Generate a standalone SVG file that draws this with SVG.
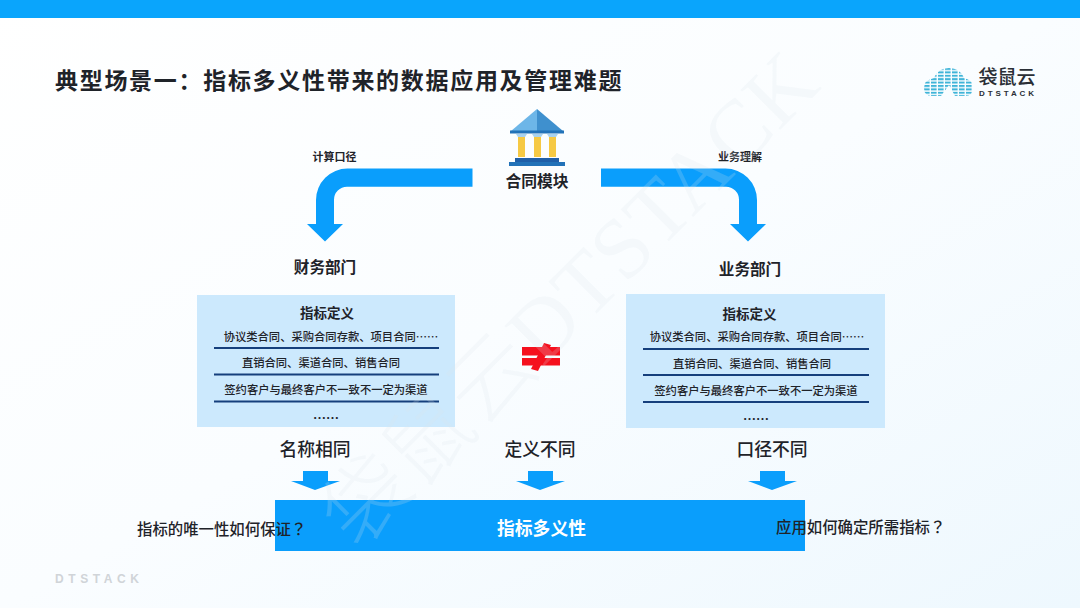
<svg xmlns="http://www.w3.org/2000/svg" width="1080" height="608" viewBox="0 0 1080 608">
<defs>
<linearGradient id="bg" x1="0" y1="0" x2="1" y2="1"><stop offset="0" stop-color="#ffffff"/><stop offset="0.5" stop-color="#fafdff"/><stop offset="1" stop-color="#eef8fe"/></linearGradient>
<pattern id="dash" width="7" height="3.4" patternUnits="userSpaceOnUse"><rect width="5.6" height="2" fill="#3FB4D8"/></pattern>
</defs>
<style>
text{font-family:"Noto Sans CJK SC","Liberation Sans",sans-serif;fill:#1f2329;text-anchor:middle}
.arrow{fill:#0A9EFC}
.box{fill:#CCE9FD}
.rule{stroke:#153F7C;stroke-width:2;fill:none}
.row{font-size:11.3px;font-weight:500}
.head{font-size:13.5px;font-weight:700}
.dots{font-size:13px;font-weight:700}
.dept{font-size:15.6px;font-weight:700}
.lab{font-size:17.8px;font-weight:500}
.tiny{font-size:11px;font-weight:700}
.q{font-size:15.4px;font-weight:500;text-anchor:start}
.qm{font-family:"Noto Sans CJK JP",sans-serif}
</style>
<rect width="1080" height="608" fill="url(#bg)"/>
<rect width="1080" height="18" fill="#0AA5FC"/>
<g id="title"><text x="55" y="89" style="font-size:23px;font-weight:700;text-anchor:start;letter-spacing:1.7px">典型场景一：指标多义性带来的数据应用及管理难题</text></g>
<g id="logo">
<path d="M924 88 Q924 80 934 78 Q938 68 949 68 Q960 68 964 78 Q973 80 973 88 Q973 96 965 96 H955 L949 85 L941 96 H932 Q924 96 924 88Z" fill="url(#dash)"/>
<text x="1007" y="84" style="font-size:19px;font-weight:500;fill:#2a2f36">袋鼠云</text>
<text x="1008" y="96" style="font-size:8px;font-weight:700;letter-spacing:2.9px;font-family:'Liberation Sans',sans-serif;fill:#2a2f36">DTSTACK</text>
</g>
<g id="bank">
<path d="M537 109 L511 131 H537Z" fill="#6DB6E8"/><path d="M537 109 L563 131 H537Z" fill="#3F90CE"/>
<rect x="510" y="130.5" width="54" height="3" fill="#2272B8"/>
<path d="M516 134 H527 L525 137 H518Z M532 134 H543 L541 137 H534Z M547 134 H558 L556 137 H549Z" fill="#A9D2EE"/>
<rect x="518" y="137" width="7" height="20" fill="#F6C944"/><rect x="534" y="137" width="7" height="20" fill="#F6C944"/><rect x="549" y="137" width="7" height="20" fill="#F6C944"/>
<rect x="515" y="158" width="44" height="4" fill="#1F5FA8"/><rect x="509" y="162" width="56" height="4" fill="#2272B8"/>
</g>
<g id="contract"><text x="537" y="187" style="font-size:15.8px;font-weight:700">合同模块</text></g>
<g id="connectors">
<path class="arrow" d="M472.5 168.5 V186.7 H347 A13 13 0 0 0 334 199.7 V224 H343 L325 241.5 L307 224 H316 V200 A31.5 31.5 0 0 1 347.5 168.5 Z"/>
<path class="arrow" d="M601 168.5 V186.7 H726 A13 13 0 0 1 739 199.7 V224 H730 L748 241.5 L766 224 H757 V200 A31.5 31.5 0 0 0 725.5 168.5 Z"/>
<path class="arrow" d="M291 481 H303 V471 H328 V481 H340 L315 490 Z"/>
<path class="arrow" d="M516 481 H528 V471 H553 V481 H565 L540 490 Z"/>
<path class="arrow" d="M748 481 H760 V471 H785 V481 H797 L772 490 Z"/>
</g>
<g id="label-calc"><text x="334.5" y="161" class="tiny">计算口径</text></g>
<g id="label-biz"><text x="740" y="161" class="tiny">业务理解</text></g>
<g id="dept-finance"><text x="325" y="273" class="dept">财务部门</text></g>
<g id="dept-business"><text x="750" y="275" class="dept">业务部门</text></g>
<g id="box-left">
<rect class="box" x="197" y="295" width="258" height="132"/>
<text x="327" y="318" class="head">指标定义</text>
<text x="331" y="341" class="row">协议类合同、采购合同存款、项目合同……</text>
<path class="rule" d="M214 348 H439 M214 374.5 H439 M214 401.5 H439"/>
<text x="321" y="367" class="row">直销合同、渠道合同、销售合同</text>
<text x="326" y="394" class="row">签约客户与最终客户不一致不一定为渠道</text>
<text x="326" y="423" class="dots">……</text>
</g>
<g id="box-right">
<rect class="box" x="626" y="294" width="259" height="134"/>
<text x="749.5" y="319" class="head">指标定义</text>
<text x="757" y="341" class="row">协议类合同、采购合同存款、项目合同……</text>
<path class="rule" d="M643 349 H869 M643 375 H869 M643 402 H869"/>
<text x="752" y="368" class="row">直销合同、渠道合同、销售合同</text>
<text x="756" y="395" class="row">签约客户与最终客户不一致不一定为渠道</text>
<text x="756" y="424" class="dots">……</text>
</g>
<g id="neq">
<rect x="522" y="347" width="38" height="8.5" fill="#F5101E"/><rect x="522" y="358" width="38" height="7.5" fill="#F5101E"/>
<path d="M544 343 L551 345 L538 371 L531 369Z" fill="#F5101E"/>
</g>
<g id="label-name"><text x="315" y="456" class="lab">名称相同</text></g>
<g id="label-def"><text x="540" y="456" class="lab">定义不同</text></g>
<g id="label-scope"><text x="772" y="456" class="lab">口径不同</text></g>
<g id="bar">
<rect x="275" y="500" width="530" height="51" fill="#0A9EFC"/>
<text x="541.5" y="535" style="font-size:17.8px;font-weight:700;fill:#ffffff">指标多义性</text>
</g>
<g id="q-left"><text x="137" y="535" class="q">指标的唯一性如何保证<tspan class="qm">？</tspan></text></g>
<g id="q-right"><text x="776" y="533" class="q">应用如何确定所需指标<tspan class="qm">？</tspan></text></g>
<g id="watermark">
<text x="0" y="0" transform="translate(358 552) rotate(-45)" style="font-family:'Liberation Serif','Noto Sans CJK SC',serif;font-size:86px;font-weight:300;fill:#dde5ec;fill-opacity:0.2;text-anchor:start;letter-spacing:1px">袋鼠云DTSTACK</text>
</g>
<g id="footer"><text x="55" y="583" style="font-family:'Liberation Sans',sans-serif;font-size:12px;font-weight:700;letter-spacing:4.6px;text-anchor:start;fill:#d0d4d8">DTSTACK</text></g>
</svg>
